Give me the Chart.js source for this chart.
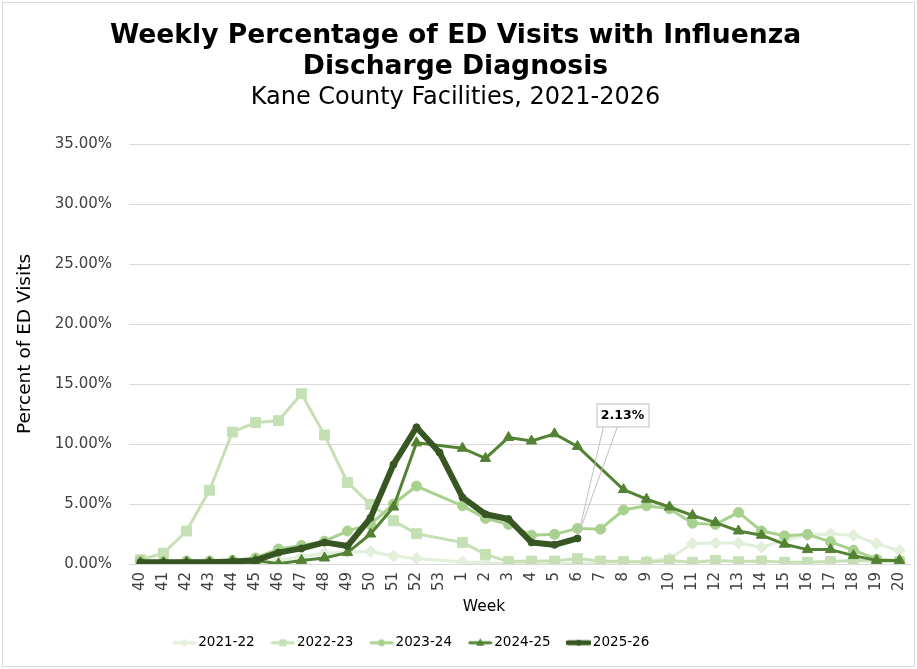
<!DOCTYPE html>
<html>
<head>
<meta charset="utf-8">
<title>Weekly Percentage of ED Visits with Influenza Discharge Diagnosis</title>
<script src="https://cdn.jsdelivr.net/npm/chart.js@4.4.1/dist/chart.umd.min.js"></script>
<style>
  html, body { margin: 0; padding: 0; background: #fff; }
</style>
</head>
<body>
<canvas id="fluChart" width="917" height="669"></canvas>
<script>
// MMWR weeks, season runs week 40 -> week 20
const weeks = ['40','41','42','43','44','45','46','47','48','49','50','51','52','53',
  '1','2','3','4','5','6','7','8','9','10','11','12','13','14','15','16','17','18','19','20'];

const seasons = ['2021-22', '2022-23', '2023-24', '2024-25', '2025-26'];

// percent of ED visits (null = no report / no week 53 that season)
const s2122 = [0.3, 0.2, 0.1, 0.1, 0.1, 0.1, 0.3, 0.6, 0.9, 1.0, 1.05, 0.67, 0.45, null,
  0.17, 0.1, 0.05, 0.05, 0.05, 0.05, 0.1, 0.17, 0.25, 0.45, 1.7, 1.75, 1.75, 1.4, 2.0, 2.4, 2.5, 2.4, 1.7, 1.1];
const s2223 = [0.35, 0.9, 2.75, 6.15, 11.0, 11.8, 11.95, 14.2, 10.75, 6.8, 4.97, 3.6, 2.53, null,
  1.8, 0.8, 0.2, 0.25, 0.25, 0.45, 0.25, 0.2, 0.15, 0.3, 0.15, 0.3, 0.2, 0.25, 0.15, 0.15, 0.2, 0.3, 0.25, 0.2];
const s2324 = [0.25, 0.2, 0.25, 0.25, 0.3, 0.5, 1.25, 1.55, 1.9, 2.75, 3.3, 5.0, 6.5, null,
  4.85, 3.8, 3.3, 2.4, 2.47, 2.97, 2.9, 4.5, 4.85, 4.6, 3.4, 3.3, 4.3, 2.75, 2.35, 2.47, 1.85, 1.15, 0.4, 0.25];
const s2425 = [0.1, 0.1, 0.15, 0.15, 0.25, 0.3, 0.02, 0.3, 0.5, 0.95, 2.5, 4.75, 10.1, null,
  9.65, 8.8, 10.55, 10.25, 10.85, 9.8, null, 6.2, 5.4, 4.75, 4.05, 3.45, 2.75, 2.4, 1.65, 1.2, 1.2, 0.7, 0.3, 0.3];
const s2526 = [0.15, 0.15, 0.15, 0.15, 0.2, 0.3, 0.95, 1.3, 1.8, 1.5, 3.85, 8.3, 11.4, 9.3,
  5.55, 4.15, 3.75, 1.8, 1.6, 2.13, null, null, null, null, null, null, null, null, null, null, null, null, null, null];

const yTicks = [0, 5, 10, 15, 20, 25, 30, 35];

const colors = ['#e2efda', '#c5e0b4', '#a9d18e', '#548235', '#375623'];
const markers = ['rectRot', 'rect', 'circle', 'triangle', 'circle'];
const FONT = "'DejaVu Sans', Verdana, sans-serif";

// small line+marker pictures for the legend
function legendIcon(i) {
  const c = document.createElement('canvas');
  c.width = 25; c.height = 12;
  const g = c.getContext('2d');
  g.strokeStyle = colors[i];
  g.fillStyle = colors[i];
  g.lineCap = 'round';
  g.lineWidth = i === 4 ? 5 : 3;
  g.beginPath(); g.moveTo(2, 6); g.lineTo(23, 6); g.stroke();
  g.beginPath();
  if (markers[i] === 'rectRot') {
    g.moveTo(12.5, 2); g.lineTo(16.5, 6); g.lineTo(12.5, 10); g.lineTo(8.5, 6);
  } else if (markers[i] === 'rect') {
    g.rect(9, 2.5, 7, 7);
  } else if (markers[i] === 'triangle') {
    g.moveTo(12.5, 1.5); g.lineTo(16.5, 9); g.lineTo(8.5, 9);
  } else {
    g.arc(12.5, 6, i === 4 ? 3 : 3.5, 0, Math.PI * 2);
  }
  g.closePath(); g.fill();
  return c;
}
const icons = seasons.map((s, i) => legendIcon(i));

const bgPlugin = {
  id: 'bg',
  beforeDraw(chart) {
    const ctx = chart.ctx;
    ctx.save();
    ctx.fillStyle = '#fff';
    ctx.fillRect(0, 0, chart.width, chart.height);
    ctx.strokeStyle = '#d9d9d9';
    ctx.lineWidth = 1;
    ctx.strokeRect(2.5, 2.5, chart.width - 5, chart.height - 5);
    ctx.restore();
  }
};

// axis titles placed like the Excel original
const axisTitles = {
  id: 'axisTitles',
  afterDraw(chart) {
    const ctx = chart.ctx;
    ctx.save();
    ctx.fillStyle = '#000';
    ctx.textAlign = 'center';
    ctx.textBaseline = 'middle';
    ctx.font = '15.5px ' + FONT;
    ctx.fillText('Week', 484, 607);
    ctx.font = '18.5px ' + FONT;
    ctx.translate(25.5, 344);
    ctx.rotate(-Math.PI / 2);
    ctx.fillText('Percent of ED Visits', 0, 0);
    ctx.restore();
  }
};

// data label callout on the latest 2025-26 value
const callout = {
  id: 'callout',
  afterDatasetsDraw(chart) {
    const di = seasons.length - 1;
    const data = chart.data.datasets[di].data;
    let idx = -1;
    data.forEach((v, i) => { if (v !== null) idx = i; });
    if (idx < 0) return;
    const pt = chart.getDatasetMeta(di).data[idx];
    const ctx = chart.ctx;
    const bx = pt.x + 19, by = pt.y - 135, bw = 52, bh = 23;
    ctx.save();
    ctx.strokeStyle = '#bfbfbf';
    ctx.lineWidth = 1;
    ctx.beginPath();
    ctx.moveTo(bx + 7, by + bh);
    ctx.lineTo(pt.x + 1, pt.y - 4);
    ctx.lineTo(bx + 21, by + bh);
    ctx.stroke();
    ctx.fillStyle = '#fff';
    ctx.fillRect(bx, by, bw, bh);
    ctx.strokeRect(bx + 0.5, by + 0.5, bw, bh);
    ctx.fillStyle = '#000';
    ctx.font = 'bold 12.5px ' + FONT;
    ctx.textAlign = 'center';
    ctx.textBaseline = 'middle';
    ctx.fillText(data[idx].toFixed(2) + '%', bx + bw / 2, by + bh / 2 + 1);
    ctx.restore();
  }
};

// legend sits left of centre in the original
const legendPlace = {
  id: 'legendPlace',
  afterLayout(chart) {
    const lg = chart.legend;
    lg.left = 156;
    lg.top = 615;
    lg.bottom = lg.top + lg.height;
  }
};

const allSeries = [s2122, s2223, s2324, s2425, s2526];

const datasets = seasons.map((name, i) => ({
  label: name,
  data: allSeries[i],
  borderColor: colors[i],
  backgroundColor: colors[i],
  borderWidth: i === 4 ? 6 : 3,
  pointStyle: markers[i],
  pointRadius: [6, 7, 5, 6, 3.5][i],
  pointBorderWidth: 1,
  pointBorderColor: colors[i],
  pointBackgroundColor: colors[i],
  borderJoinStyle: 'round',
  borderCapStyle: 'round',
  spanGaps: true,
  tension: 0,
  order: seasons.length - i
}));

new Chart(document.getElementById('fluChart'), {
  type: 'line',
  data: { labels: weeks, datasets: datasets },
  plugins: [bgPlugin, axisTitles, callout, legendPlace],
  options: {
    responsive: false,
    animation: false,
    layout: { autoPadding: false, padding: { left: 0, right: 6, top: 0, bottom: 20.5 } },
    plugins: {
      title: {
        display: true,
        text: ['Weekly Percentage of ED Visits with Influenza', 'Discharge Diagnosis'],
        color: '#000',
        font: { family: FONT, size: 26.6, weight: 'bold', lineHeight: 1.165 },
        padding: { top: 20.5, bottom: 0 }
      },
      subtitle: {
        display: true,
        text: 'Kane County Facilities, 2021-2026',
        color: '#000',
        font: { family: FONT, size: 24, lineHeight: 1.1 },
        padding: { top: 2.3, bottom: 33 }
      },
      legend: {
        position: 'bottom',
        align: 'start',
        labels: {
          usePointStyle: true,
          pointStyleWidth: 14.5,
          padding: 21,
          color: '#000',
          font: { family: FONT, size: 13.5 },
          generateLabels: (chart) => chart.data.datasets.map((ds, i) => ({
            text: ds.label,
            fillStyle: ds.borderColor,
            strokeStyle: ds.borderColor,
            lineWidth: 0,
            pointStyle: icons[i],
            hidden: !chart.isDatasetVisible(i),
            datasetIndex: i
          }))
        }
      },
      tooltip: { enabled: false }
    },
    scales: {
      x: {
        offset: true,
        grid: { display: false, drawTicks: false },
        border: { display: false },
        afterFit: (scale) => {
          scale.height = 40;
          scale.paddingLeft = 0;
          scale.paddingRight = 0;
        },
        ticks: {
          autoSkip: false,
          maxRotation: 90,
          minRotation: 90,
          padding: 8,
          color: '#404040',
          font: { family: FONT, size: 15 }
        }
      },
      y: {
        min: 0,
        max: 35,
        afterFit: (scale) => { scale.width = 129; },
        afterBuildTicks: (scale) => { scale.ticks = yTicks.map(v => ({ value: v })); },
        grid: { color: '#d9d9d9', drawTicks: false },
        border: { display: false },
        ticks: {
          padding: 17,
          color: '#404040',
          font: { family: FONT, size: 15 },
          callback: (v) => v.toFixed(2) + '%'
        }
      }
    }
  }
});
</script>
</body>
</html>
